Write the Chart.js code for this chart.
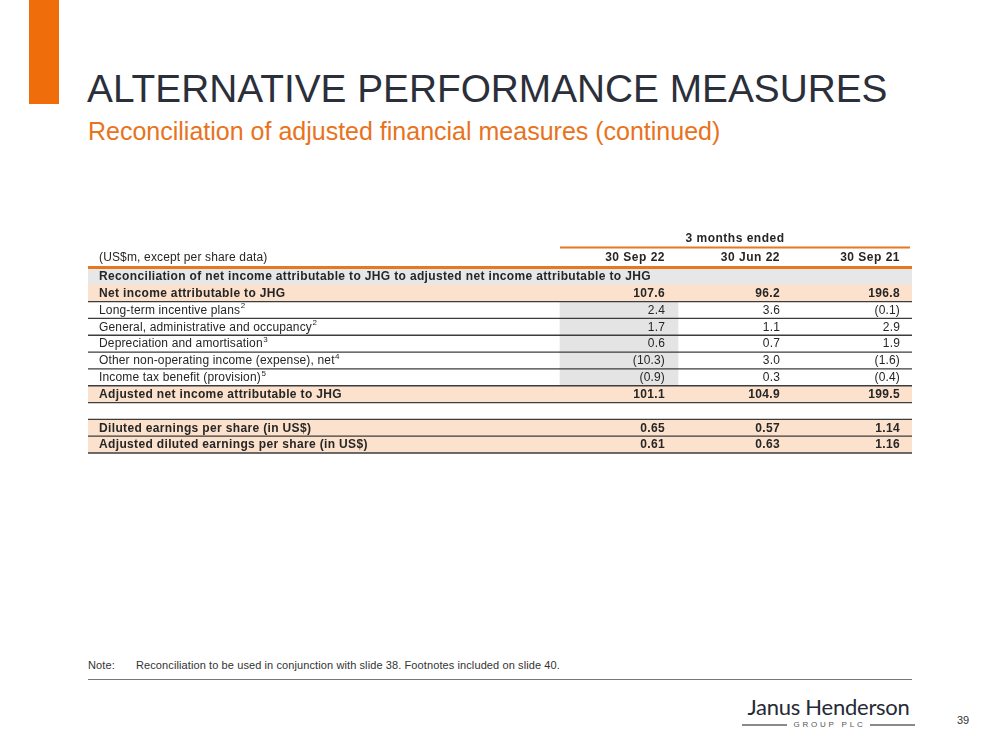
<!DOCTYPE html>
<html>
<head>
<meta charset="utf-8">
<script src="https://cdn.jsdelivr.net/npm/chart.js@4"></script>
<style>
  html, body { margin: 0; padding: 0; background: #fff; }
  body { width: 999px; height: 750px; position: relative; overflow: hidden; font-family: "Liberation Sans", Arial, sans-serif; }
  .bar { position: absolute; left: 29px; top: 0; width: 30px; height: 104px; background: #ef6d0a; }
  .title { position: absolute; left: 87px; top: 67px; font-size: 38.8px; color: #2b2f3a; white-space: nowrap; }
  .subtitle { position: absolute; left: 88px; top: 117px; font-size: 25px; color: #e8731c; white-space: nowrap; }
  .table { position: absolute; left: 88px; top: 226px; width: 824px; height: 230px; }
  .note { position: absolute; left: 88px; top: 659px; font-size: 11px; color: #333; white-space: nowrap; letter-spacing: 0.1px; }
  .note span { position: absolute; left: 48px; top: 0; }
  .rule { position: absolute; left: 88px; top: 679px; width: 824px; height: 1px; background: #777; }
  .logo { position: absolute; left: 742px; top: 696px; width: 173px; text-align: center; }
  .logo .name { font-family: Lato, "Open Sans", sans-serif; font-size: 22px; color: #262a34; letter-spacing: -0.25px; line-height: 22px; white-space: nowrap; }
  .logo .group { position: relative; height: 10px; margin-top: 1px; line-height: 10px; font-size: 8px; }
  .logo .group::before, .logo .group::after { content: ""; position: absolute; top: 5px; width: 45px; height: 2px; background: #8a8a8a; }
  .logo .group::before { left: 0; }
  .logo .group::after { right: 0; }
  .logo .group span { font-size: 8px; letter-spacing: 2.8px; color: #555; line-height: 10px; position: relative; left: 1px; top: 1px; }
  .page { position: absolute; left: 957px; top: 714px; font-size: 11px; color: #333; }
</style>
</head>
<body>
<div class="bar"></div>
<div class="title">ALTERNATIVE PERFORMANCE MEASURES</div>
<div class="subtitle">Reconciliation of adjusted financial measures (continued)</div>
<div class="table"><canvas id="apmTable"></canvas></div>
<div class="note">Note:<span>Reconciliation to be used in conjunction with slide 38. Footnotes included on slide 40.</span></div>
<div class="rule"></div>
<div class="logo"><div class="name">Janus Henderson</div><div class="group"><span>GROUP PLC</span></div></div>
<div class="page">39</div>
<script>
const periodGroup = "3 months ended";
const unitsLabel = "(US$m, except per share data)";
const periods = ["30 Sep 22", "30 Jun 22", "30 Sep 21"];

const rowLabels = [
  "Reconciliation of net income attributable to JHG to adjusted net income attributable to JHG",
  "Net income attributable to JHG",
  "Long-term incentive plans",
  "General, administrative and occupancy",
  "Depreciation and amortisation",
  "Other non-operating income (expense), net",
  "Income tax benefit (provision)",
  "Adjusted net income attributable to JHG",
  "",
  "Diluted earnings per share (in US$)",
  "Adjusted diluted earnings per share (in US$)"
];
const footnotes = [null, null, "2", "2", "3", "4", "5", null, null, null, null];
const rowType = ["section", "total", "item", "item", "item", "item", "item", "total", "blank", "total", "total"];
const decimals = [0, 1, 1, 1, 1, 1, 1, 1, 0, 2, 2];

const sep22 = [null, 107.6, 2.4, 1.7, 0.6, -10.3, -0.9, 101.1, null, 0.65, 0.61];
const jun22 = [null, 96.2, 3.6, 1.1, 0.7, 3.0, 0.3, 104.9, null, 0.57, 0.63];
const sep21 = [null, 196.8, -0.1, 2.9, 1.9, -1.6, -0.4, 199.5, null, 1.14, 1.16];
const seriesValues = [sep22, jun22, sep21];

// layout (x in table pixels)
const tableWidth = 824;
const labelX = 11;
const colRight = [577, 692, 812];
const currentColumn = [472, 590];
const groupSpan = [472, 822];

const textColor = "#262626";
const orange = "#e87722";
const peach = "#fce1cc";
const sectionGrey = "#e7e7e7";
const columnGrey = "#e4e4e4";
const FONT = "'Liberation Sans', Arial, sans-serif";

function fmt(v, d) {
  if (v === null) return "";
  const s = Math.abs(v).toFixed(d);
  return v < 0 ? `(${s})` : s;
}

function setFont(ctx, bold) {
  ctx.font = (bold ? "bold " : "") + "12px " + FONT;
  ctx.letterSpacing = bold ? "0.35px" : "0.15px";
}

const tableText = {
  id: "tableText",
  afterDatasetsDraw(chart) {
    const { ctx, chartArea } = chart;
    const x = chart.scales.x;
    const y = chart.scales.y;
    const top = chartArea.top;
    const left = x.getPixelForValue(0);
    const right = x.getPixelForValue(tableWidth);
    const rowH = y.getPixelForValue(1) - y.getPixelForValue(0);

    ctx.save();
    ctx.textBaseline = "middle";
    ctx.fillStyle = textColor;

    // header
    setFont(ctx, true);
    ctx.letterSpacing = "0.5px";
    ctx.textAlign = "center";
    ctx.fillText(periodGroup, (x.getPixelForValue(groupSpan[0]) + x.getPixelForValue(groupSpan[1])) / 2, top - 29.5);
    ctx.strokeStyle = orange;
    ctx.lineWidth = 2;
    ctx.beginPath();
    ctx.moveTo(x.getPixelForValue(groupSpan[0]), top - 20.5);
    ctx.lineTo(x.getPixelForValue(groupSpan[1]), top - 20.5);
    ctx.stroke();

    ctx.textAlign = "right";
    periods.forEach((p, c) => ctx.fillText(p, x.getPixelForValue(colRight[c]), top - 10.5));
    setFont(ctx, false);
    ctx.textAlign = "left";
    ctx.fillText(unitsLabel, x.getPixelForValue(labelX), top - 10.5);

    // row borders
    ctx.strokeStyle = "#3c3c3c";
    ctx.lineWidth = 1.3;
    rowLabels.forEach((_, i) => {
      const yc = y.getPixelForValue(i);
      const bottom = yc + rowH / 2;
      if (i >= 1 && rowType[i] !== "blank") {
        ctx.beginPath();
        ctx.moveTo(left, bottom);
        ctx.lineTo(right, bottom);
        ctx.stroke();
      }
      if (i > 0 && rowType[i - 1] === "blank") {
        ctx.beginPath();
        ctx.moveTo(left, yc - rowH / 2);
        ctx.lineTo(right, yc - rowH / 2);
        ctx.stroke();
      }
    });

    ctx.strokeStyle = orange;
    ctx.lineWidth = 3;
    ctx.beginPath();
    ctx.moveTo(left, top - 0.5);
    ctx.lineTo(right, top - 0.5);
    ctx.stroke();

    // cells
    rowLabels.forEach((label, i) => {
      if (!label) return;
      const yc = y.getPixelForValue(i) + 0.5;
      const bold = rowType[i] !== "item";
      setFont(ctx, bold);
      ctx.textAlign = "left";
      const lx = x.getPixelForValue(labelX);
      ctx.fillText(label, lx, yc);
      if (footnotes[i]) {
        const w = ctx.measureText(label).width;
        ctx.font = "8px " + FONT;
        ctx.fillText(footnotes[i], lx + w + 0.5, yc - 4.5);
        setFont(ctx, bold);
      }
      ctx.textAlign = "right";
      seriesValues.forEach((vals, c) => {
        ctx.fillText(fmt(vals[i], decimals[i]), x.getPixelForValue(colRight[c]), yc);
      });
    });
    ctx.restore();
  }
};

new Chart(document.getElementById("apmTable"), {
  type: "bar",
  data: {
    labels: rowLabels,
    datasets: [
      {
        label: "Row shading",
        data: rowType.map(t => (t === "section" || t === "total") ? [0, tableWidth] : null),
        backgroundColor: rowType.map(t => t === "section" ? sectionGrey : peach),
        barPercentage: 1,
        categoryPercentage: 1,
        grouped: false
      },
      {
        label: "Current quarter",
        data: rowType.map(t => t === "item" ? currentColumn : null),
        backgroundColor: columnGrey,
        barPercentage: 1,
        categoryPercentage: 1,
        grouped: false
      }
    ]
  },
  options: {
    indexAxis: "y",
    responsive: true,
    maintainAspectRatio: false,
    animation: false,
    layout: { padding: { top: 42, bottom: 3, left: 0, right: 0 } },
    plugins: {
      legend: { display: false },
      tooltip: { enabled: false }
    },
    scales: {
      x: { display: false, min: 0, max: tableWidth },
      y: { display: false }
    }
  },
  plugins: [tableText]
});
</script>
</body>
</html>
